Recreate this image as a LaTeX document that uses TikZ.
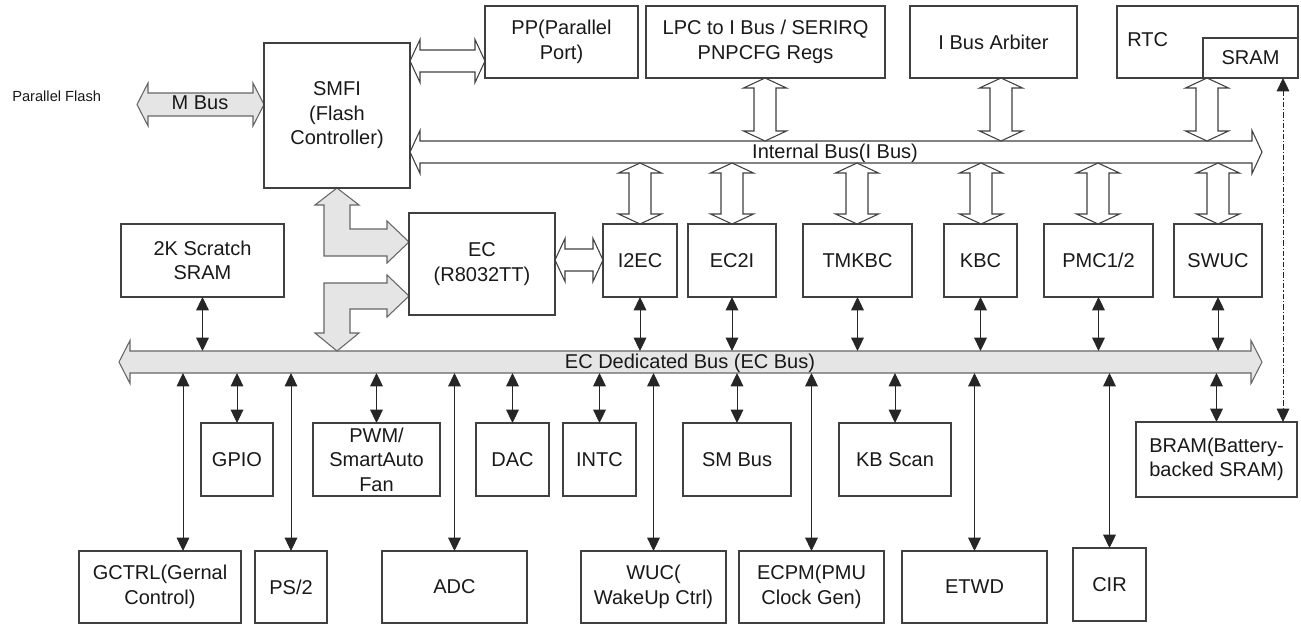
\documentclass[tikz,border=0pt]{standalone}
\usepackage{fontspec}
\setmainfont{Liberation Sans}
\usetikzlibrary{arrows.meta}
\newcommand\blk[6]{\node[box, minimum width={(#4-#2)*0.75pt}, minimum height={(#5-#3)*0.75pt}] (#1) at ({(#2+#4)/2},{(#3+#5)/2}) {#6};}
\newcommand\vdbl[3]{\draw[blkw] (#1,#2) -- ({#1+21.5},{#2+10}) -- ({#1+11},{#2+10}) -- ({#1+11},{#3-10}) -- ({#1+21.5},{#3-10}) -- (#1,#3) -- ({#1-21.5},{#3-10}) -- ({#1-11},{#3-10}) -- ({#1-11},{#2+10}) -- ({#1-21.5},{#2+10}) -- cycle;}
\newcommand\hdbl[7]{\draw[#1] (#2,#4) -- ({#2+#7},{#4-#6}) -- ({#2+#7},{#4-#5}) -- ({#3-#7},{#4-#5}) -- ({#3-#7},{#4-#6}) -- (#3,#4) -- ({#3-#7},{#4+#6}) -- ({#3-#7},{#4+#5}) -- ({#2+#7},{#4+#5}) -- ({#2+#7},{#4+#6}) -- cycle;}
\begin{document}
\begin{tikzpicture}[x=0.75pt,y=-0.75pt,
  box/.style={draw=black!75, line width=0.8pt, fill=white, inner sep=0pt, outer sep=0pt, align=center, font=\fontsize{15}{18.4}\selectfont, text=black!90},
  dbl/.style={{Triangle[length=10pt,width=9.5pt]}-{Triangle[length=10pt,width=9.5pt]}, draw=black!85, line width=0.75pt},
  blkw/.style={draw=black!75, line width=0.8pt, fill=white, line join=miter},
  blkg/.style={draw=black!60, line width=0.8pt, fill=gray!20, line join=miter},
  lbl/.style={font=\fontsize{15}{18}\selectfont, inner sep=0pt, text=black!90}]
\useasboundingbox (0,0) rectangle (1301,624);

% ---- block arrows ----
\hdbl{blkg}{137}{264}{104.5}{11.5}{21.5}{11}
\hdbl{blkw}{410}{485}{61}{11}{21.5}{10}
\hdbl{blkw}{410}{1262}{152}{11}{21.5}{10}
\hdbl{blkw}{555}{603}{260}{11}{21.5}{10}
\hdbl{blkg}{119}{1262}{362}{11}{21.5}{11}
\vdbl{765}{78}{141}
\vdbl{1001}{78}{141}
\vdbl{1207}{78}{141}
\vdbl{640}{163}{224}
\vdbl{732}{163}{224}
\vdbl{857}{163}{224}
\vdbl{981}{163}{224}
\vdbl{1098}{163}{224}
\vdbl{1218}{163}{224}
% L-shaped gray arrows
\draw[blkg] (337,188) -- (359,205) -- (350,205) -- (350,229) -- (387,229) -- (387,221) -- (409,242) -- (387,263) -- (387,256) -- (324,256) -- (324,205) -- (315,205) -- cycle;
\draw[blkg] (324,283) -- (387,283) -- (387,275) -- (409,296) -- (387,317) -- (387,309) -- (350,309) -- (350,333) -- (359,333) -- (337,351) -- (315,333) -- (324,333) -- cycle;

% ---- labels ----
\node[font=\fontsize{11}{13}\selectfont, inner sep=0pt, anchor=base west, text=black!90] (pflash) at (12,102) {Parallel Flash};
\node[lbl, anchor=base] (mbus) at (200,110) {M Bus};
\node[lbl, anchor=base] (ibus) at (835,158) {Internal Bus(I Bus)};
\node[lbl, anchor=base] (ecbus) at (690,368) {EC Dedicated Bus (EC Bus)};

% ---- boxes ----
\blk{smfi}{264}{43}{410}{188}{SMFI\\(Flash\\Controller)}
\blk{pp}{485}{6}{638}{78}{PP(Parallel\\Port)}
\blk{lpc}{646}{6}{885}{78}{LPC to I Bus / SERIRQ\\PNPCFG Regs}
\blk{arb}{910}{6}{1077}{78}{I Bus Arbiter}
\blk{rtc}{1117}{6}{1298}{78}{}
\blk{sram}{1203}{38}{1298}{78}{SRAM}
\node[lbl, anchor=base west] (rtct) at (1127,47) {RTC};
\blk{sram2k}{121}{224}{284}{297}{2K Scratch\\SRAM}
\blk{ec}{409}{213}{555}{315}{EC\\(R8032TT)}
\blk{i2ec}{603}{224}{677}{297}{I2EC}
\blk{ec2i}{688}{224}{776}{297}{EC2I}
\blk{tmkbc}{803}{224}{912}{297}{TMKBC}
\blk{kbc}{944}{224}{1017}{297}{KBC}
\blk{pmc}{1044}{224}{1153}{297}{PMC1/2}
\blk{swuc}{1174}{224}{1262}{297}{SWUC}
\blk{gpio}{201}{423}{273}{496}{GPIO}
\blk{pwm}{313}{423}{440}{496}{PWM/\\SmartAuto\\Fan}
\blk{dac}{476}{423}{549}{496}{DAC}
\blk{intc}{563}{423}{636}{496}{INTC}
\blk{smbus}{683}{423}{791}{496}{SM Bus}
\blk{kbscan}{839}{423}{951}{496}{KB Scan}
\blk{bram}{1136}{422}{1297}{497}{BRAM(Battery-\\backed SRAM)}
\blk{gctrl}{79}{551}{241}{623}{GCTRL(Gernal\\Control)}
\blk{ps2}{255}{551}{327}{623}{PS/2}
\blk{adc}{382}{551}{527}{623}{ADC}
\blk{wuc}{581}{551}{726}{623}{WUC(\\WakeUp Ctrl)}
\blk{ecpm}{739}{551}{884}{623}{ECPM(PMU\\Clock Gen)}
\blk{etwd}{902}{551}{1047}{623}{ETWD}
\blk{cir}{1073}{548}{1146}{621}{CIR}

% ---- bus edges ----
\coordinate (ecT) at (0,351);
\coordinate (ecB) at (0,373);
\coordinate (gx) at (183,0);
\coordinate (dd) at (1283,0);

% ---- connectors ----
\foreach \n in {sram2k,i2ec,ec2i,tmkbc,kbc,pmc,swuc}
  \draw[dbl] (\n.south) -- (\n.south |- ecT);
\foreach \n in {gpio,pwm,dac,intc,smbus,kbscan,bram,ps2,adc,wuc,ecpm,etwd,cir}
  \draw[dbl] (ecB -| \n.north) -- (\n.north);
\draw[dbl] (ecB -| gx) -- (gctrl.north -| gx);
\draw[dbl, dash pattern=on 4pt off 1.5pt on 1pt off 1.5pt] (sram.south -| dd) -- (bram.north -| dd);
\end{tikzpicture}
\end{document}
